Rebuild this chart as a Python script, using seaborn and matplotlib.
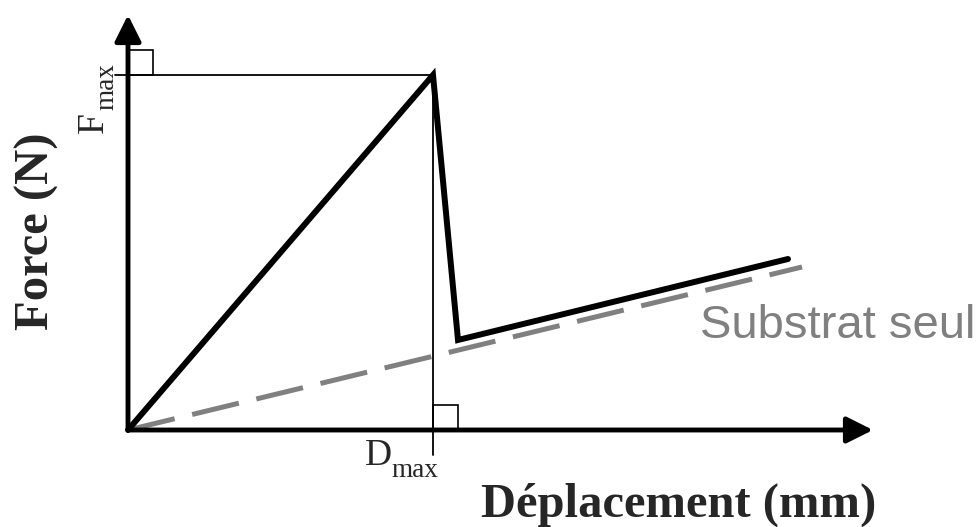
import matplotlib
matplotlib.use('Agg')
import matplotlib.pyplot as plt
import matplotlib.patches as mpatches
import seaborn as sns
import pandas as pd

# Schematic load curve (arbitrary units)
deplacement = [0.0, 3.05, 3.30, 6.60]
force = [0.0, 3.55, 0.90, 1.71]
substrat_x = [0.0, 6.74]
substrat_y = [0.0, 1.63]

x_label = 'Déplacement (mm)'
y_label = 'Force (N)'
substrat_label = 'Substrat seul'

sns.set_style('white')
plt.rcParams['font.family'] = ['Liberation Serif', 'DejaVu Serif']

fig = plt.figure(figsize=(9.8, 5.27), dpi=100)
ax = fig.add_axes([0, 0, 1, 1])
ax.set_xlim(-1.28, 8.52)
ax.set_ylim(-0.97, 4.30)
ax.axis('off')

d_max = deplacement[1]
f_max = force[1]

# Guide lines to F_max and D_max
ax.plot([-0.13, d_max], [f_max, f_max], color='black', lw=1.3)
ax.plot([d_max, d_max], [f_max, -0.25], color='black', lw=1.3)
# Right-angle marks
sq = 0.25
ax.add_patch(mpatches.Rectangle((0, f_max), sq, sq, fill=False, lw=1.2, ec='black'))
ax.add_patch(mpatches.Rectangle((d_max, 0), sq, sq, fill=False, lw=1.2, ec='black'))

# Substrate only (dashed grey)
df_sub = pd.DataFrame({'x': substrat_x, 'y': substrat_y})
sns.lineplot(data=df_sub, x='x', y='y', ax=ax, color='#808080', lw=3.6,
             linestyle=(0, (9.6, 3.6)), zorder=3)

# Coated sample curve
df = pd.DataFrame({'x': deplacement, 'y': force})
sns.lineplot(data=df, x='x', y='y', ax=ax, color='black', lw=4.3, sort=False,
             solid_joinstyle='miter', zorder=4)

# Axes arrows
arrow = dict(arrowstyle='-|>,head_length=0.8,head_width=0.4', lw=3.5,
             color='black', mutation_scale=20, shrinkA=0, shrinkB=0)
ax.annotate('', xy=(7.45, 0), xytext=(0, 0), arrowprops=arrow, zorder=5)
ax.annotate('', xy=(0, 4.15), xytext=(0, 0), arrowprops=arrow, zorder=5)

# Labels
ax.text(5.505, -0.87, x_label, fontsize=35, fontweight='bold',
        ha='center', va='baseline')
ax.text(-0.91, 1.99, y_label, fontsize=35, fontweight='bold',
        rotation=90, ha='center', va='center')
ax.text(8.47, 0.92, substrat_label, fontsize=34, color='#808080',
        family=['Liberation Sans', 'DejaVu Sans'], ha='right', va='baseline')

# D_max and F_max
ax.text(2.37, -0.35, 'D', fontsize=27, ha='left', va='baseline')
ax.text(2.63, -0.47, 'max', fontsize=19.5, ha='left', va='baseline')
ax.text(-0.25, 2.97, 'F', fontsize=27, rotation=90, rotation_mode='anchor',
        ha='left', va='baseline')
ax.text(-0.15, 3.20, 'max', fontsize=19.5, rotation=90, rotation_mode='anchor',
        ha='left', va='baseline')

plt.savefig('out.png', dpi=100)
